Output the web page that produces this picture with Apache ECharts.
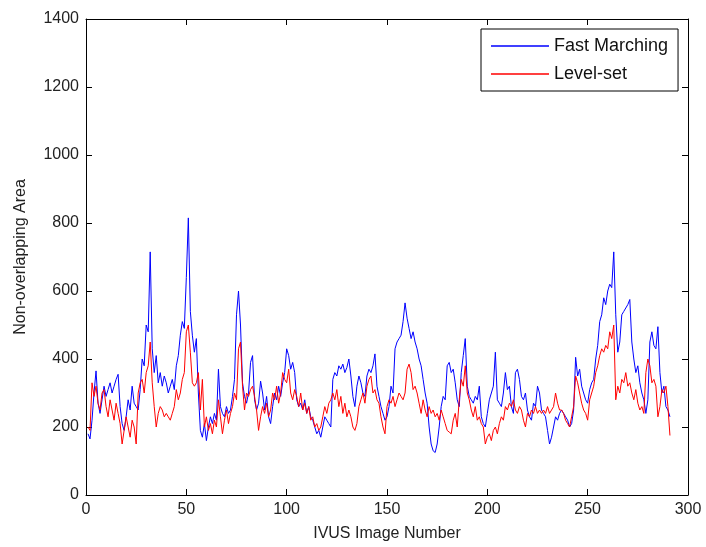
<!DOCTYPE html>
<html>
<head>
<meta charset="utf-8">
<script src="https://cdn.jsdelivr.net/npm/echarts@6/dist/echarts.min.js"></script>
<style>
html,body{margin:0;padding:0;background:#fff;}
#chart{width:706px;height:547px;}
</style>
</head>
<body>
<div id="chart"></div>
<script>
// Series names
var seriesNames = ["Fast Marching", "Level-set"];
// Axis ticks
var xTicks = [0, 50, 100, 150, 200, 250, 300];
var yTicks = [0, 200, 400, 600, 800, 1000, 1200, 1400];
// Non-overlapping area per IVUS image (image numbers 1..N)
var fastMarching = [
180,165,220,300,365,270,240,280,320,290,
310,330,300,320,340,355,260,210,190,230,
280,250,320,270,260,250,310,400,380,500,
480,715,430,360,410,330,360,320,350,330,
300,320,340,310,380,410,470,510,490,640,
815,540,470,420,460,300,190,170,210,160,
200,230,210,240,220,370,260,240,230,260,
240,250,290,340,530,600,500,330,290,270,
300,390,410,280,250,270,335,300,250,290,
230,210,260,300,280,320,290,330,360,430,
410,370,390,360,280,260,270,250,280,240,
260,230,220,200,180,190,170,200,230,220,
210,200,340,360,350,380,370,385,360,375,
400,350,290,260,320,350,330,300,290,350,
370,360,380,415,320,290,260,240,220,230,
260,320,300,430,450,460,470,510,565,520,
490,460,480,450,430,400,380,340,300,270,
200,150,130,125,150,200,260,290,280,380,
390,360,370,330,280,260,360,410,460,320,
290,280,270,290,280,320,230,210,200,240,
280,300,320,420,280,270,260,300,360,310,
320,260,240,360,370,340,290,280,300,250,
230,220,270,260,320,300,250,240,230,190,
150,170,200,230,220,240,250,240,230,220,
200,210,250,405,350,370,320,300,280,270,
310,330,340,400,440,510,530,580,560,600,
620,610,715,530,420,450,530,540,550,560,
575,450,400,360,380,330,300,280,240,280,
450,480,440,430,495,360,300,320,260,250,
230
];
var levelSet = [
200,190,330,290,320,270,250,300,310,260,
230,280,250,220,270,240,210,150,190,230,
200,170,220,200,150,300,330,340,300,360,
380,450,330,260,200,240,260,250,230,240,
230,220,240,260,310,280,300,340,360,480,
500,420,330,320,330,360,250,340,200,230,
190,210,180,220,200,280,230,180,220,250,
210,240,260,300,280,430,450,320,250,300,
290,310,320,290,250,190,230,260,240,270,
230,250,300,280,320,270,300,360,340,330,
370,300,280,310,290,260,300,250,270,240,
260,220,230,200,210,190,200,230,260,240,
270,280,300,280,310,260,290,240,270,230,
250,230,200,190,210,260,280,300,270,320,
340,350,300,310,280,270,230,200,180,260,
280,270,290,260,280,300,290,280,300,370,
385,360,310,320,300,270,240,280,250,230,
260,240,250,230,240,220,250,230,210,190,
185,180,220,240,200,280,340,320,380,300,
280,250,230,260,220,230,210,200,150,170,
180,160,190,200,180,210,230,220,260,250,
270,260,280,250,240,260,250,220,200,240,
230,250,240,260,240,250,240,250,240,260,
240,250,260,300,270,250,250,240,220,210,
200,230,260,350,330,300,270,250,240,220,
280,300,320,360,380,410,430,420,440,430,
480,460,500,280,320,300,340,330,360,320,
330,300,280,310,270,250,260,240,360,400,
380,330,340,320,230,260,310,300,320,260,
175
];

function pairs(arr){ return arr.map(function(v,i){ return [i+1, v]; }); }

var chart = echarts.init(document.getElementById('chart'), null, {renderer:'canvas'});
var FONT = 'Liberation Sans, Arial, sans-serif';
var labelStyle = {fontFamily:FONT, fontSize:16, color:'#222', formatter:function(v){ return String(v); }};
var lineSt = {show:true, onZero:false, lineStyle:{color:'#000', width:1}};
var tickSt = {show:true, inside:true, length:6, lineStyle:{color:'#000'}};
chart.setOption({
  animation:false,
  backgroundColor:'#fff',
  grid:{left:86, right:18, top:19, bottom:52, containLabel:false},
  legend:{
    orient:'vertical', left:481, top:29,
    data:seriesNames,
    icon:'rect', itemWidth:58, itemHeight:1.5, itemGap:10,
    padding:[8,10,8,10],
    borderColor:'#000', borderWidth:1, backgroundColor:'#fff',
    textStyle:{fontFamily:FONT, fontSize:18, color:'#111'}
  },
  xAxis:[{
    type:'value', position:'bottom', min:xTicks[0], max:xTicks[xTicks.length-1], interval:50,
    name:'IVUS Image Number', nameLocation:'middle', nameGap:31,
    nameTextStyle:{fontFamily:FONT, fontSize:16, color:'#222'},
    axisLine:lineSt, axisTick:tickSt,
    axisLabel:Object.assign({margin:7}, labelStyle), splitLine:{show:false}
  },{
    type:'value', position:'top', min:xTicks[0], max:xTicks[xTicks.length-1], interval:50,
    axisLine:lineSt, axisTick:tickSt,
    axisLabel:{show:false}, splitLine:{show:false}
  }],
  yAxis:[{
    type:'value', position:'left', min:yTicks[0], max:yTicks[yTicks.length-1], interval:200,
    name:'Non-overlapping Area', nameLocation:'middle', nameGap:57,
    nameTextStyle:{fontFamily:FONT, fontSize:16, color:'#222'},
    axisLine:lineSt, axisTick:tickSt,
    axisLabel:Object.assign({margin:7}, labelStyle), splitLine:{show:false}
  },{
    type:'value', position:'right', min:yTicks[0], max:yTicks[yTicks.length-1], interval:200,
    axisLine:lineSt, axisTick:tickSt,
    axisLabel:{show:false}, splitLine:{show:false}
  }],
  series:[{
    name:seriesNames[0], type:'line', data:pairs(fastMarching),
    showSymbol:false, symbol:'none', color:'#0000ff',
    lineStyle:{color:'#0000ff', width:1}
  },{
    name:seriesNames[1], type:'line', data:pairs(levelSet),
    showSymbol:false, symbol:'none', color:'#ff0000',
    lineStyle:{color:'#ff0000', width:1}
  }]
});
</script>
</body>
</html>
